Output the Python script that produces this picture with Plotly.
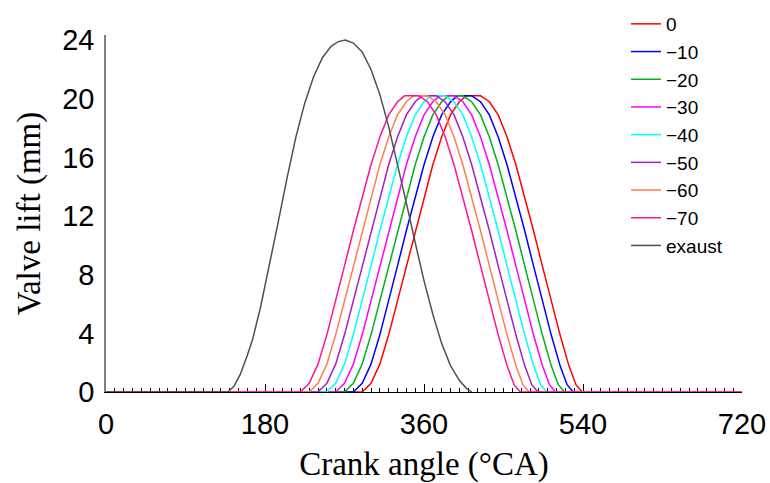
import plotly.graph_objects as go

# Intake valve lift profile at 0° timing (crank angle in °CA, lift in mm)
intake_angle = [0, 290, 300, 310, 320, 330, 340, 350, 360, 370, 380, 390, 400, 408,
                424, 434, 444, 454, 464, 474, 484, 494, 504, 514, 524, 532, 539, 720]
intake_lift = [0, 0, 0.6, 1.9, 3.9, 6.2, 8.6, 11.0, 13.3, 15.5, 17.4, 18.9, 19.8, 20.2,
               20.2, 19.8, 18.9, 17.4, 15.5, 13.3, 11.0, 8.6, 6.2, 3.9, 1.8, 0.5, 0, 0]

# Intake timing shifts (°CA) and their line colours
timing_shift = [0, -10, -20, -30, -40, -50, -60, -70]
timing_label = ["0", "\u221210", "\u221220", "\u221230", "\u221240", "\u221250", "\u221260", "\u221270"]
timing_color = ["#ff0000", "#0000ff", "#00b020", "#ff00ff", "#00ffff",
                "#a020c8", "#ff7f50", "#ff1493"]

# Exhaust valve lift profile
exhaust_angle = [0, 138, 145, 152, 160, 166, 175, 185, 195, 205, 215, 225, 235, 245, 255,
                 263, 271, 280, 290, 300, 310, 320, 330, 340, 350, 360, 370, 380, 390,
                 400, 408, 414]
exhaust_lift = [0, 0, 0.4, 1.2, 2.5, 3.6, 5.8, 8.6, 11.6, 14.6, 17.4, 19.7, 21.5, 22.8, 23.6,
                23.9, 24.0, 23.8, 23.2, 22.0, 20.3, 18.1, 15.6, 12.9, 10.2, 7.6, 5.3, 3.3, 1.8,
                0.8, 0.25, 0]

x_ticks = [0, 180, 360, 540, 720]
y_ticks = [0, 4, 8, 12, 16, 20, 24]

fig = go.Figure()

for shift, name, color in zip(timing_shift, timing_label, timing_color):
    xs = [a + shift if 0 < i < len(intake_angle) - 1 else a
          for i, a in enumerate(intake_angle)]
    fig.add_trace(go.Scatter(
        x=xs, y=intake_lift, mode="lines", name=name,
        line=dict(color=color, width=1.5),
    ))

fig.add_trace(go.Scatter(
    x=exhaust_angle, y=exhaust_lift, mode="lines", name="exaust",
    line=dict(color="#505050", width=1.5),
))

fig.update_layout(
    width=770, height=483,
    margin=dict(l=106, r=28, t=35, b=91, autoexpand=False),
    paper_bgcolor="white", plot_bgcolor="white",
    font=dict(family="Liberation Sans, Arial, sans-serif", color="black"),
    legend=dict(
        xref="container", yref="container",
        x=626 / 770, y=1 - 5 / 483, xanchor="left", yanchor="top",
        font=dict(size=19, family="Liberation Sans, Arial, sans-serif"),
        bgcolor="rgba(0,0,0,0)", borderwidth=0, maxheight=470,
    ),
    xaxis=dict(
        range=[0, 720], tickvals=x_ticks, ticktext=[str(v) for v in x_ticks],
        showgrid=False, zeroline=False,
        showline=True, linecolor="black", linewidth=1, layer="below traces",
        ticks="inside", ticklen=8, tickcolor="black", tickwidth=1,
        minor=dict(dtick=10, tick0=0, ticks="inside", ticklen=4, tickcolor="black"),
        tickfont=dict(size=29),
        ticklabelstandoff=6,
        title=dict(text="Crank angle (\u00b0CA)", standoff=16,
                   font=dict(size=33, family="Liberation Serif, Times New Roman, serif")),
    ),
    yaxis=dict(
        range=[0, 24.35], tickvals=y_ticks, ticktext=[str(v) for v in y_ticks],
        showgrid=False, zeroline=False,
        showline=True, linecolor="#808080", linewidth=1.5,
        ticks="", tickfont=dict(size=29), ticklabelstandoff=4,
        title=dict(text="Valve lift (mm)", standoff=12,
                   font=dict(size=33, family="Liberation Serif, Times New Roman, serif")),
    ),
)

fig.write_html("out.html")
